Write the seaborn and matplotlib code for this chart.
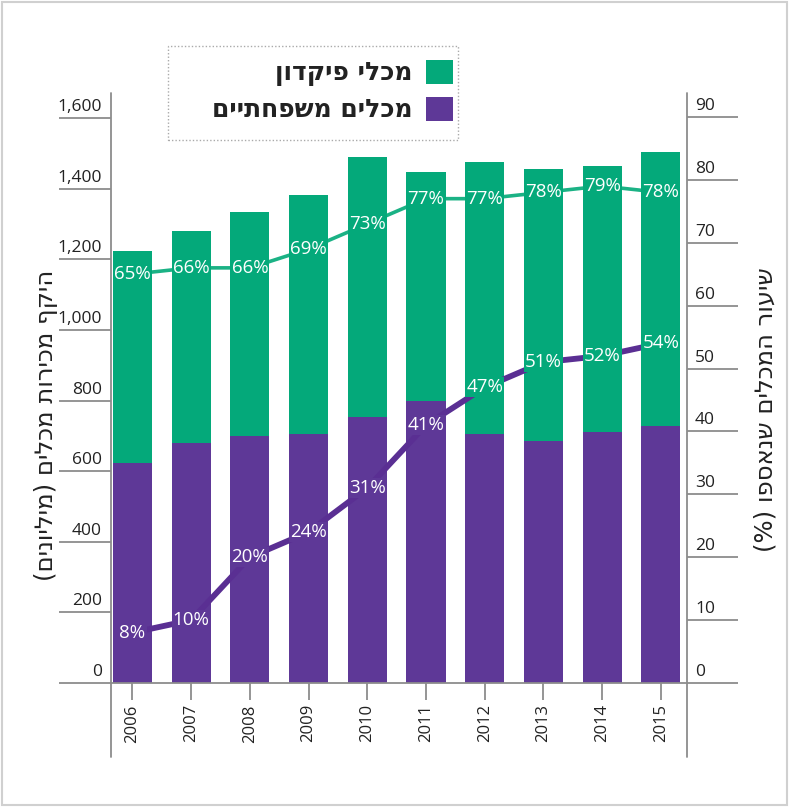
import numpy as np
import pandas as pd
import matplotlib
matplotlib.use("Agg")
import matplotlib.pyplot as plt
import matplotlib.transforms as mtransforms
from matplotlib.patches import Patch, Rectangle
from matplotlib.lines import Line2D
import seaborn as sns

# ---------------- data ----------------
years = ["2006", "2007", "2008", "2009", "2010", "2011", "2012", "2013", "2014", "2015"]
household = [623, 680, 700, 705, 753, 799, 705, 686, 711, 728]      # purple (millions)
deposit = [601, 600, 634, 677, 737, 648, 771, 770, 753, 776]        # green (millions)
pct_deposit = [65, 66, 66, 69, 73, 77, 77, 78, 79, 78]
pct_household = [8, 10, 20, 24, 31, 41, 47, 51, 52, 54]
left_ticks = [0, 200, 400, 600, 800, 1000, 1200, 1400, 1600]
right_ticks = [0, 10, 20, 30, 40, 50, 60, 70, 80, 90]
label_deposit = "מכלי פיקדון"
label_household = "מכלים משפחתיים"
ylabel_left = "היקף מכירות מכלים (מיליונים)"
ylabel_right = "שיעור המכלים שנאספו (%)"

GREEN = "#04A97A"
PURPLE = "#5E3897"
LINE_GREEN = "#1BB285"
LINE_PURPLE = "#5A2F93"
GREY = "#8c8c8c"
TXT = "#222222"


def rtl(s):
    """Visual order for right-to-left Hebrew text."""
    r = s[::-1]
    return r.translate(str.maketrans({"(": ")", ")": "("}))


sns.set_theme(style="white")
plt.rcParams["font.family"] = ["Open Sans", "DejaVu Sans"]

W, H = 789, 807
fig = plt.figure(figsize=(W / 100, H / 100), dpi=100)
fig.patch.set_facecolor("white")


def fx(px):
    return px / W


def fy(py):
    return 1 - py / H


ax_l, ax_r, ax_b, ax_t = 111, 687, 683, 113
ax = fig.add_axes([fx(ax_l), fy(ax_b), (ax_r - ax_l) / W, (ax_b - ax_t) / H])

df = pd.DataFrame({"year": years, "household": household, "deposit": deposit})
df["total"] = df["household"] + df["deposit"]

bw = 0.665
sns.barplot(data=df, x="year", y="total", color=GREEN, saturation=1, width=bw, ax=ax)
sns.barplot(data=df, x="year", y="household", color=PURPLE, saturation=1, width=bw, ax=ax)
for p in ax.patches:
    p.set_edgecolor("none")

ax.set_ylim(0, 1600 * (ax_b - ax_t) / 565)
ax.set_xlim(-0.366, 9.446)
ax.set_xlabel("")
ax.set_ylabel("")
for s in ["left", "right", "top"]:
    ax.spines[s].set_visible(False)
ax.spines["bottom"].set_color(GREY)
ax.spines["bottom"].set_linewidth(1.3)

ax.set_yticks(left_ticks)
ax.tick_params(axis="y", which="both", left=True, length=52 * 0.72, width=1.3,
               color=GREY, labelleft=False)
ax.tick_params(axis="x", bottom=True, length=17 * 0.72, width=1.3, color=GREY,
               labelrotation=90, labelsize=12, labelcolor=TXT, pad=3)

up = mtransforms.ScaledTranslation(0, 11 / 100, fig.dpi_scale_trans)
for v in left_ticks:
    ax.text((102 - ax_l) / (ax_r - ax_l), v, f"{v:,}", ha="right", va="center",
            fontsize=12.5, color=TXT, transform=ax.get_yaxis_transform() + up)

# ---------------- percent lines ----------------
ax2 = ax.twinx()
rmax = (ax_b - ax_t) / 6.29
ax2.set_ylim(0, rmax)
xs = np.arange(len(years))
sns.lineplot(x=xs, y=pct_deposit, color=LINE_GREEN, linewidth=2.6, ax=ax2, zorder=3)
sns.lineplot(x=xs, y=pct_household, color=LINE_PURPLE, linewidth=4.2, ax=ax2, zorder=3)
ax2.set_xlim(-0.366, 9.446)
for s in ["left", "right", "top", "bottom"]:
    ax2.spines[s].set_visible(False)
ax2.set_yticks(right_ticks)
ax2.tick_params(axis="y", right=True, length=51 * 0.72, width=1.3, color=GREY,
                labelright=False)
for v in right_ticks:
    ax2.text((695 - ax_l) / (ax_r - ax_l), v, f"{v}", ha="left", va="center",
             fontsize=12.5, color=TXT, transform=ax2.get_yaxis_transform() + up)

for i, v in enumerate(pct_deposit):
    ax2.text(i, v, f"{v}%", ha="center", va="center", color="white", fontsize=13.5,
             zorder=5, bbox=dict(boxstyle="square,pad=0.06", fc=GREEN, ec="none"))
for i, v in enumerate(pct_household):
    under = PURPLE if v / rmax < household[i] / ax.get_ylim()[1] else GREEN
    ax2.text(i, v, f"{v}%", ha="center", va="center", color="white", fontsize=13.5,
             zorder=5, bbox=dict(boxstyle="square,pad=0.06", fc=under, ec="none"))

# ---------------- extended vertical axis lines ----------------
for xp in (ax_l, ax_r):
    fig.add_artist(Line2D([fx(xp), fx(xp)], [fy(93), fy(757)], color=GREY, lw=1.3))

# ---------------- axis titles ----------------
fig.text(fx(46), fy(425), rtl(ylabel_left), rotation=90, ha="center", va="center",
         fontsize=17.5, color=TXT, family="DejaVu Sans")
fig.text(fx(766), fy(410), rtl(ylabel_right), rotation=90, ha="center", va="center",
         fontsize=17.5, color=TXT, family="DejaVu Sans")

# ---------------- legend ----------------
fig.add_artist(Rectangle((fx(168), fy(140)), (458 - 168) / W, (140 - 46) / H,
                         transform=fig.transFigure, fill=False, ec="#aaaaaa",
                         lw=1.0, ls=(0, (1, 1.5))))
handles = [Patch(fc=GREEN, ec="none"), Patch(fc=PURPLE, ec="none")]
leg = fig.legend(handles, [rtl(label_deposit), rtl(label_household)],
                 loc="upper right", bbox_to_anchor=(fx(453), fy(60)),
                 markerfirst=False, frameon=False, borderpad=0, borderaxespad=0,
                 handlelength=1.08, handleheight=1.08, handletextpad=0.55,
                 labelspacing=0.42,
                 prop={"family": "DejaVu Sans", "size": 18, "weight": "bold"})
for t in leg.get_texts():
    t.set_color(TXT)

# light outer frame
fig.add_artist(Rectangle((0.003, 0.003), 0.994, 0.994, transform=fig.transFigure,
                         fill=False, ec="#d0d0d0", lw=1.5))

fig.savefig("out.png", dpi=100)
